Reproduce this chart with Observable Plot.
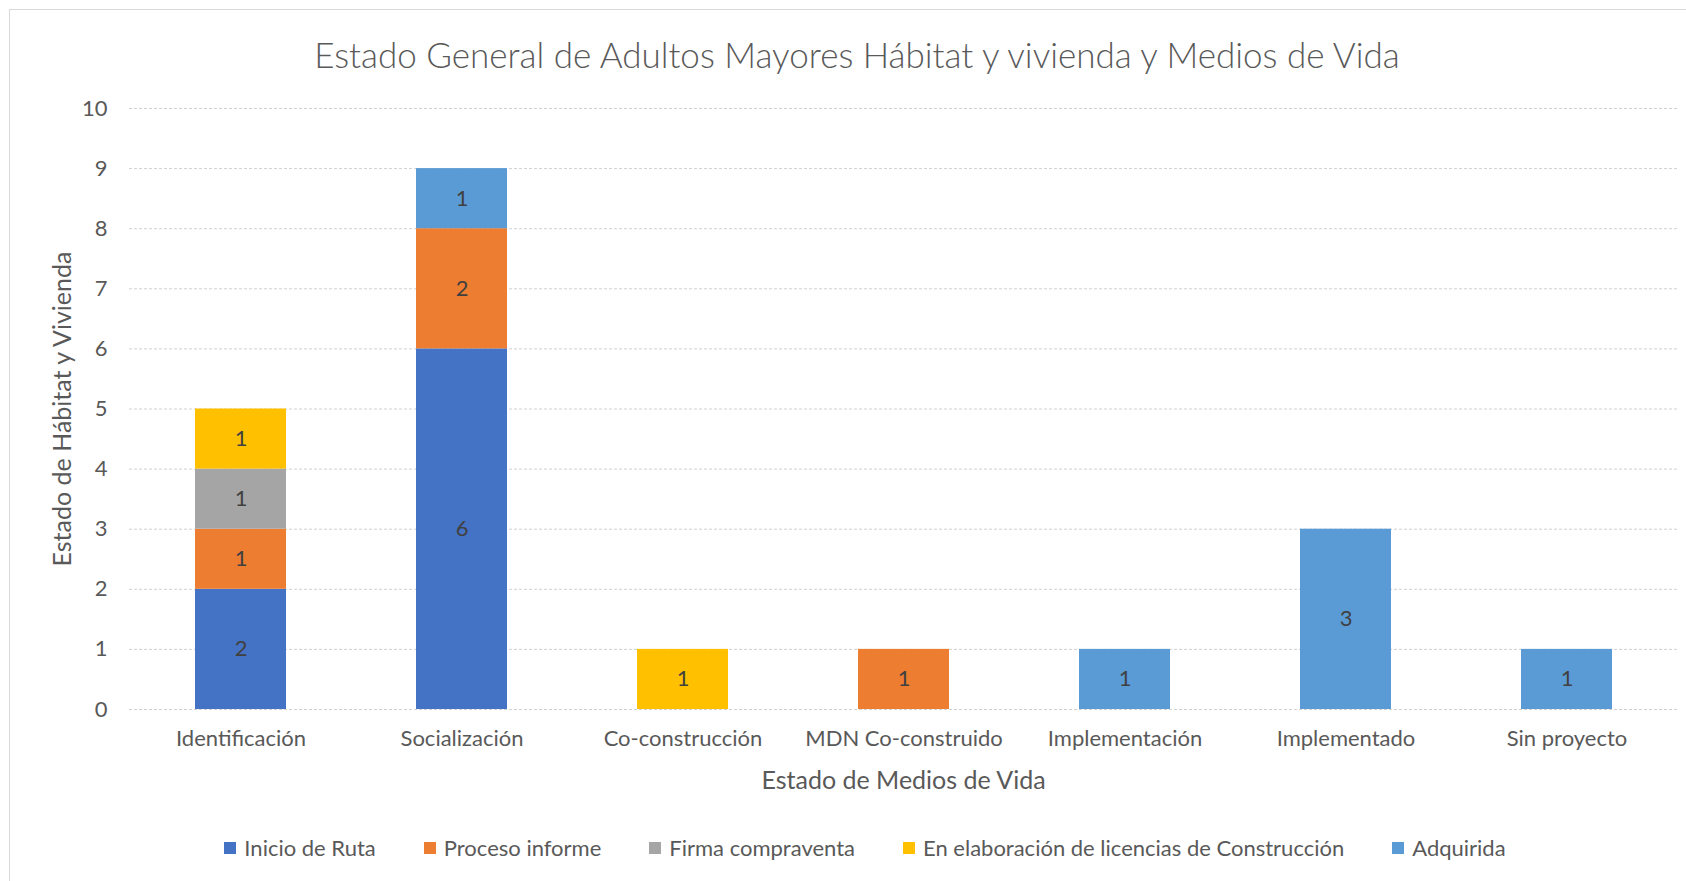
<!DOCTYPE html>
<html>
<head>
<meta charset="utf-8">
<script src="https://cdn.jsdelivr.net/npm/d3@7"></script>
<script src="https://cdn.jsdelivr.net/npm/@observablehq/plot@0.6"></script>
<style>
  html, body { margin: 0; padding: 0; background: #fff; }
  #wrap { position: relative; width: 1686px; height: 881px; overflow: hidden; font-family: Lato, "Open Sans", sans-serif; color: #595959; }
  #frame { position: absolute; left: 9px; top: 9px; width: 1720px; height: 920px; border: 1px solid #d9d9d9; box-sizing: border-box; }
  #title { position: absolute; left: 9px; width: 1696px; top: 33px; line-height: 42px; text-align: center; font-size: 35px; font-weight: 300; color: #595959; }
  #chart { position: absolute; left: 0; top: 80px; }
  #legend { position: absolute; left: 17px; width: 1696px; top: 835px; line-height: 26px; display: flex; justify-content: center; font-size: 22px; color: #595959; }
  .item { display: flex; align-items: center; margin: 0 24px; }
  .sw { width: 12px; height: 12px; margin-right: 8px; }
</style>
</head>
<body>
<div id="wrap">
  <div id="frame"></div>
  <div id="title"></div>
  <div id="chart"></div>
  <div id="legend"></div>
</div>
<script>
const titleText = "Estado General de Adultos Mayores Hábitat y vivienda y Medios de Vida";
const xTitle = "Estado de Medios de Vida";
const yTitle = "Estado de Hábitat y Vivienda";
const categories = ["Identificación", "Socialización", "Co-construcción", "MDN Co-construido", "Implementación", "Implementado", "Sin proyecto"];
const series = ["Inicio de Ruta", "Proceso informe", "Firma compraventa", "En elaboración de licencias de Construcción", "Adquirida"];
const colors = ["#4472C4", "#ED7D31", "#A5A5A5", "#FFC000", "#5B9BD5"];
const inicioDeRuta = [2, 6, 0, 0, 0, 0, 0];
const procesoInforme = [1, 2, 0, 1, 0, 0, 0];
const firmaCompraventa = [1, 0, 0, 0, 0, 0, 0];
const enElaboracion = [1, 0, 1, 0, 0, 0, 0];
const adquirida = [0, 1, 0, 0, 1, 3, 1];
const yTicks = [0, 1, 2, 3, 4, 5, 6, 7, 8, 9, 10];

const seriesValues = [inicioDeRuta, procesoInforme, firmaCompraventa, enElaboracion, adquirida];
const rows = [];
categories.forEach((c, i) => {
  series.forEach((s, j) => {
    const v = seriesValues[j][i];
    if (v > 0) rows.push({cat: c, series: s, value: v});
  });
});

document.getElementById("title").textContent = titleText;

const chart = Plot.plot({
  width: 1686,
  height: 729,
  marginLeft: 129,
  marginRight: 9,
  marginTop: 28,
  marginBottom: 100,
  style: {fontFamily: "Lato, 'Open Sans', sans-serif", fontSize: "22px", color: "#595959", background: "transparent", overflow: "visible"},
  x: {domain: categories, paddingInner: 0.59, paddingOuter: 0.295, label: null, tickSize: 0, tickPadding: 21},
  y: {domain: [0, 10], ticks: yTicks, label: null, tickSize: 0, tickPadding: 22},
  color: {domain: series, range: colors},
  marks: [
    Plot.ruleY(yTicks, {stroke: "#d0d0d0", strokeDasharray: "3,2", strokeWidth: 1}),
    Plot.barY(rows, Plot.stackY({x: "cat", y: "value", fill: "series"})),
    Plot.text(rows, Plot.stackY({x: "cat", y: "value", text: d => String(d.value), fill: "#404040", fontSize: 22})),
    Plot.text([xTitle], {frameAnchor: "bottom", dy: 79, text: d => d, fill: "#595959", fontSize: 25}),
    Plot.text([yTitle], {frameAnchor: "left", dx: -67, rotate: -90, textAnchor: "middle", text: d => d, fill: "#595959", fontSize: 25})
  ]
});
document.getElementById("chart").appendChild(chart);

const legend = document.getElementById("legend");
series.forEach((s, j) => {
  const item = document.createElement("div");
  item.className = "item";
  const sw = document.createElement("div");
  sw.className = "sw";
  sw.style.background = colors[j];
  const t = document.createElement("span");
  t.textContent = s;
  item.appendChild(sw);
  item.appendChild(t);
  legend.appendChild(item);
});
</script>
</body>
</html>
